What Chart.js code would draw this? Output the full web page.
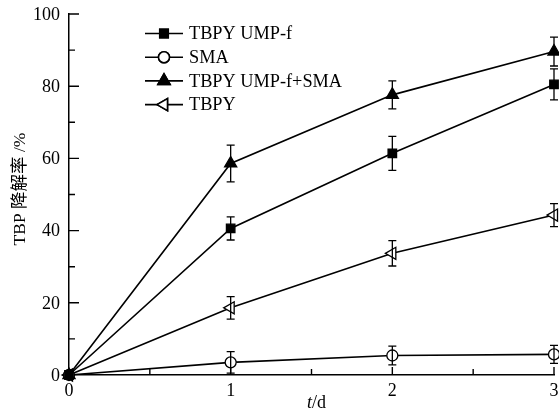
<!DOCTYPE html>
<html>
<head>
<meta charset="utf-8">
<script src="https://cdn.jsdelivr.net/npm/chart.js@4"></script>
<style>
  html, body { margin: 0; padding: 0; background: #fff; }
  #wrap { width: 559px; height: 413px; }
</style>
</head>
<body>
<div id="wrap"><canvas id="c" width="559" height="413"></canvas></div>
<script>
// degradation of TBP over time (days)
const days = [0, 1, 2, 3];
const xTicks = [0, 1, 2, 3];
const yTicks = [0, 20, 40, 60, 80, 100];
const seriesNames = ['TBPY UMP-f', 'SMA', 'TBPY UMP-f+SMA', 'TBPY'];
const umpF      = [0, 40.6, 61.4, 80.5];
const sma       = [0, 3.5, 5.4, 5.7];
const umpFSma   = [0, 58.6, 77.6, 89.6];
const tbpy      = [0, 18.6, 33.7, 44.3];
const umpFErr    = [0, 3.2, 4.7, 4.3];
const smaErr     = [0, 3.0, 2.6, 2.5];
const umpFSmaErr = [0, 5.1, 3.9, 4.0];
const tbpyErr    = [0, 3.1, 3.5, 3.2];

const serif = '"Liberation Serif", "Times New Roman", serif';
const cjk = '"Liberation Serif", "Noto Sans CJK SC", serif';

function pts(vals) {
  return vals.map((v, i) => ({ x: days[i], y: v }));
}

const styles = [
  { pointStyle: 'rect', radius: 6, fill: '#000', rot: 0 },
  { pointStyle: 'circle', radius: 5.5, fill: '#fff', rot: 0 },
  { pointStyle: 'triangle', radius: 7, fill: '#000', rot: 0 },
  { pointStyle: 'triangle', radius: 7, fill: '#fff', rot: -90 }
];
const values = [umpF, sma, umpFSma, tbpy];
const errors = [umpFErr, smaErr, umpFSmaErr, tbpyErr];

const datasets = values.map((v, i) => ({
  label: seriesNames[i],
  data: pts(v),
  errors: errors[i],
  borderColor: '#000',
  borderWidth: 1.6,
  backgroundColor: styles[i].fill,
  pointStyle: styles[i].pointStyle,
  pointRadius: styles[i].radius,
  pointRotation: styles[i].rot,
  pointBorderColor: '#000',
  pointBorderWidth: 1.3,
  pointBackgroundColor: styles[i].fill,
  clip: false
}));

// inward ticks, tick labels, error bars, legend and axis titles
const extras = {
  id: 'extras',
  afterDatasetsDraw(chart) {
    const ctx = chart.ctx;
    const xs = chart.scales.x, ys = chart.scales.y;
    ctx.save();
    ctx.strokeStyle = '#000';
    ctx.fillStyle = '#000';
    ctx.lineWidth = 1.3;

    // error bars
    chart.data.datasets.forEach(ds => {
      ds.data.forEach((p, i) => {
        const e = ds.errors[i];
        if (!e) return;
        const px = xs.getPixelForValue(p.x);
        const top = ys.getPixelForValue(p.y + e);
        const bot = ys.getPixelForValue(p.y - e);
        ctx.beginPath();
        ctx.moveTo(px, top); ctx.lineTo(px, bot);
        ctx.moveTo(px - 4, top); ctx.lineTo(px + 4, top);
        ctx.moveTo(px - 4, bot); ctx.lineTo(px + 4, bot);
        ctx.stroke();
      });
    });

    // ticks pointing into the plot
    const left = xs.left, bottom = ys.bottom;
    ctx.lineWidth = 1.4;
    ctx.beginPath();
    for (let v = 10; v <= 100; v += 10) {
      const py = ys.getPixelForValue(v);
      const len = v % 20 === 0 ? 10 : 6;
      ctx.moveTo(left, py); ctx.lineTo(left + len, py);
    }
    for (let v = 0.5; v <= 3; v += 0.5) {
      const px = xs.getPixelForValue(v);
      const len = v % 1 === 0 ? 8 : 6;
      ctx.moveTo(px, bottom); ctx.lineTo(px, bottom - len);
    }
    ctx.stroke();

    // tick labels
    ctx.font = '18px ' + serif;
    ctx.textBaseline = 'middle';
    ctx.textAlign = 'right';
    yTicks.forEach(v => ctx.fillText(String(v), left - 9, ys.getPixelForValue(v) + 1));
    ctx.textAlign = 'center';
    xTicks.forEach(v => ctx.fillText(String(v), xs.getPixelForValue(v), bottom + 16));

    // legend
    ctx.font = '18.3px ' + serif;
    ctx.textAlign = 'left';
    chart.data.datasets.forEach((ds, i) => {
      const y = 33.5 + i * 23.7;
      ctx.lineWidth = 1.6;
      ctx.beginPath();
      ctx.moveTo(145, y); ctx.lineTo(183, y);
      ctx.stroke();
      Chart.helpers.drawPoint(ctx, {
        pointStyle: ds.pointStyle,
        radius: ds.pointRadius,
        rotation: ds.pointRotation,
        borderWidth: 1.3
      }, 164, y);
      ctx.fillStyle = ds.pointBackgroundColor;
      ctx.strokeStyle = '#000';
      ctx.fill();
      ctx.stroke();
      ctx.fillStyle = '#000';
      ctx.fillText(ds.label, 189, y + 1);
    });

    // x axis title with italic t
    ctx.textBaseline = 'alphabetic';
    ctx.font = 'italic 18px ' + serif;
    const tw = ctx.measureText('t').width;
    ctx.fillText('t', 307, 408);
    ctx.font = '18px ' + serif;
    ctx.fillText('/d', 307 + tw, 408);

    // y axis title
    ctx.translate(20, 189);
    ctx.rotate(-Math.PI / 2);
    ctx.font = '17.5px ' + cjk;
    ctx.textAlign = 'center';
    ctx.textBaseline = 'middle';
    ctx.fillText('TBP 降解率 /%', 0, 0);
    ctx.restore();
  }
};

new Chart(document.getElementById('c'), {
  type: 'line',
  data: { datasets: datasets },
  options: {
    responsive: false,
    animation: false,
    devicePixelRatio: 1,
    layout: { autoPadding: false, padding: { top: 14, right: 5, left: 0, bottom: 0 } },
    plugins: { legend: { display: false }, tooltip: { enabled: false } },
    elements: { line: { tension: 0 } },
    scales: {
      x: {
        type: 'linear',
        min: 0, max: 3,
        grid: { display: false, drawTicks: false },
        border: { display: true, color: '#000', width: 1.5 },
        ticks: { display: false, stepSize: 1 },
        afterFit(s) { s.height = 38; }
      },
      y: {
        min: 0, max: 100,
        grid: { display: false, drawTicks: false },
        border: { display: true, color: '#000', width: 1.5 },
        ticks: { display: false, stepSize: 20 },
        afterFit(s) { s.width = 69; }
      }
    }
  },
  plugins: [extras]
});
</script>
</body>
</html>
